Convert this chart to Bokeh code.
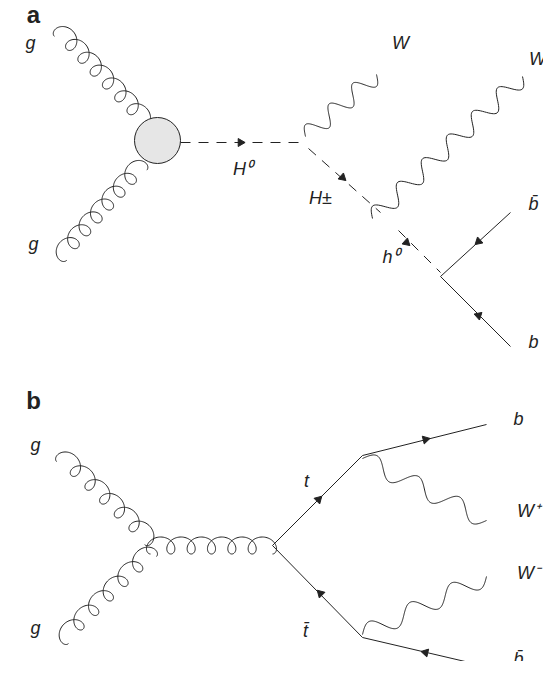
import numpy as np
from bokeh.plotting import figure
from bokeh.embed import file_html
from bokeh.resources import INLINE
from bokeh.core.properties import value

H = 677  # image height, y values below are measured from the top

# line endpoints (x0, y0, x1, y1, loops)
gluons = [(60, 30, 146, 120, 7), (60, 254, 140, 164, 7),
          (62, 455, 150, 538, 6), (62, 637, 150, 550, 6), (150, 545, 272, 545, 6)]
photons = [(305, 136, 376, 74, 3), (372, 218, 522, 76, 6),
           (362, 458, 486, 520, 3), (362, 634, 486, 576, 3)]
dashed = [(180, 142, 306, 142), (308, 148, 380, 212), (398, 230, 440, 272)]
fermions = [(440, 276, 510, 212), (440, 276, 510, 346),
            (272, 545, 362, 455), (362, 455, 486, 424),
            (272, 545, 362, 637), (362, 637, 486, 666)]
# arrow heads (x, y, direction in degrees, image orientation)
arrows = [(240, 142, 0), (342, 177, 42), (406, 242, 42),
          (478, 241, 138), (478, 315, -42),
          (318, 499, -45), (425, 439, -14), (320, 593, 225), (425, 652, 193)]
labels = [("g", 30, 42), ("g", 33, 243), ("W", 400, 42), ("W", 537, 58),
          ("H⁰", 242, 168), ("H±", 320, 197), ("h⁰", 390, 256),
          ("b̄", 533, 203), ("b", 533, 341),
          ("g", 35, 444), ("g", 35, 627), ("t", 306, 480), ("t̄", 305, 630),
          ("b", 518, 418), ("W⁺", 528, 510), ("W⁻", 528, 572), ("b̄", 518, 658)]
panel_labels = [("a", 33, 14), ("b", 33, 400)]
blob = (157, 140, 23)

p = figure(width=543, height=661, x_range=(0, 543), y_range=(16, 677),
           output_backend="svg", toolbar_location=None, min_border=0)
p.axis.visible = False
p.grid.visible = False
p.outline_line_color = None

def frame(x0, y0, x1, y1):
    d = np.array([x1 - x0, -(y1 - y0)], float)
    L = np.hypot(*d)
    u = d / L
    n = np.array([-u[1], u[0]])
    return np.array([x0, H - y0], float), u, n, L

for x0, y0, x1, y1, k in gluons:
    o, u, n, L = frame(x0, y0, x1, y1)
    phi = np.linspace(0, 2 * np.pi * k, 60 * k)
    c = L / (2 * np.pi * k)
    R = 8.5
    along = c * phi - R * np.sin(phi)
    along = along - along[0]
    along = along * L / along[-1]
    perp = R * (1 - np.cos(phi)) - R
    pts = o[:, None] + np.outer(u, along) + np.outer(n, perp)
    p.line(pts[0], pts[1], line_color="#222222", line_width=1)

for x0, y0, x1, y1, k in photons:
    o, u, n, L = frame(x0, y0, x1, y1)
    s = np.linspace(0, 1, 200)
    along = s * L
    perp = 9 * np.sin(2 * np.pi * k * s)
    pts = o[:, None] + np.outer(u, along) + np.outer(n, perp)
    p.line(pts[0], pts[1], line_color="#222222", line_width=1)

for x0, y0, x1, y1 in dashed:
    p.line([x0, x1], [H - y0, H - y1], line_color="#222222", line_width=1, line_dash="10 8")

for x0, y0, x1, y1 in fermions:
    p.line([x0, x1], [H - y0, H - y1], line_color="#222222", line_width=1)

ax, ay, ad = zip(*arrows)
p.scatter(x=list(ax), y=[H - v for v in ay],
          angle=[np.radians(-a) - np.pi / 2 for a in ad],
          marker="triangle", size=8, color="#222222")

p.circle(x=[blob[0]], y=[H - blob[1]], radius=blob[2], fill_color="#e6e6e6",
         line_color="#222222", line_width=1)

t, tx, ty = zip(*labels)
p.text(x=list(tx), y=[H - v for v in ty], text=list(t), text_font=value("Liberation Sans"),
       text_font_style="italic", text_font_size="18px", text_align="center",
       text_baseline="middle", text_color="#222222")

t, tx, ty = zip(*panel_labels)
p.text(x=list(tx), y=[H - v for v in ty], text=list(t), text_font=value("Liberation Sans"),
       text_font_style="bold", text_font_size="24px", text_align="center",
       text_baseline="middle", text_color="#222222")

open("out.html", "w").write(file_html(p, INLINE))
